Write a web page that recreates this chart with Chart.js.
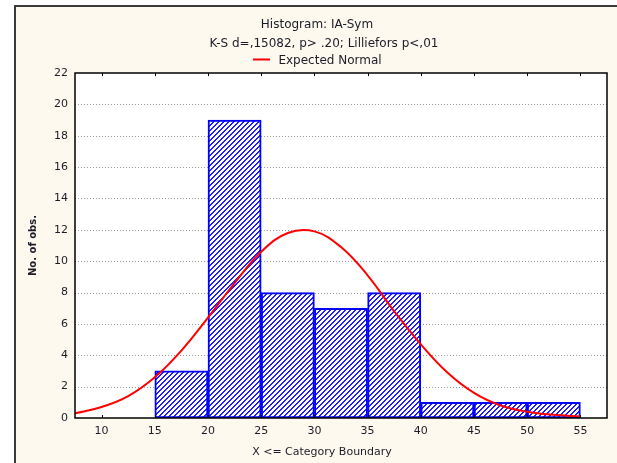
<!DOCTYPE html>
<html>
<head>
<meta charset="utf-8">
<script src="https://cdn.jsdelivr.net/npm/chart.js@4.4.0/dist/chart.umd.min.js"></script>
<style>
  html, body { margin: 0; padding: 0; background: #fff; }
</style>
</head>
<body>
<canvas id="histograma" width="617" height="463"></canvas>
<script>
// centro de cada clase y cantidad de observaciones
const centros = [17.5, 22.5, 27.5, 32.5, 37.5, 42.5, 47.5, 52.5];
const frecuencias = [3, 19, 8, 7, 8, 1, 1, 1];

// curva normal esperada
const curvaX = [7.5, 10, 12.5, 15, 17.5, 20, 22.5, 25, 27.5, 30, 32.5, 35, 37.5, 40, 42.5, 45, 47.5, 50, 52.5, 55];
const curvaY = [0.3, 0.7, 1.4, 2.6, 4.3, 6.4, 8.6, 10.6, 11.8, 11.9, 10.9, 9.1, 6.8, 4.7, 2.9, 1.6, 0.8, 0.4, 0.2, 0.1];

// etiquetas de los ejes
const ticksX = [10, 15, 20, 25, 30, 35, 40, 45, 50, 55];
const ticksY = [0, 2, 4, 6, 8, 10, 12, 14, 16, 18, 20, 22];

const titulo = 'Histogram: IA-Sym';
const subtitulo = 'K-S d=,15082, p> .20; Lilliefors p<,01';
const leyenda = 'Expected Normal';
const tituloX = 'X <= Category Boundary';
const tituloY = 'No. of obs.';

/**
 * Rayado diagonal azul para las barras
 */
var crearRayado = function() {
    const p = 5;
    const c = document.createElement('canvas');
    c.width = p; c.height = p;
    const g = c.getContext('2d');
    g.fillStyle = '#ffffff';
    g.fillRect(0, 0, p, p);
    g.fillStyle = '#2020ff';
    for (let i = 0; i < p; i++) {
        g.fillRect(i, p - 1 - i, 1, 1);
        g.fillRect(i, (p - i) % p, 1, 1);
    }
    return g.createPattern(c, 'repeat');
};

var texto = function(ctx, s, x, y, font, color) {
    ctx.font = font;
    ctx.fillStyle = color;
    ctx.textAlign = 'center';
    ctx.textBaseline = 'middle';
    ctx.fillText(s, x, y);
};

const marco = {
    id: 'marco',
    beforeDraw(chart) {
        const ctx = chart.ctx, a = chart.chartArea;
        ctx.save();
        ctx.fillStyle = '#ffffff';
        ctx.fillRect(0, 0, chart.width, chart.height);
        ctx.fillStyle = '#fdf9ef';
        ctx.fillRect(15, 6, chart.width, chart.height);
        ctx.strokeStyle = '#3a3a3a';
        ctx.lineWidth = 2;
        ctx.beginPath();
        ctx.moveTo(15, chart.height + 5);
        ctx.lineTo(15, 6);
        ctx.lineTo(chart.width + 5, 6);
        ctx.stroke();
        ctx.fillStyle = '#ffffff';
        ctx.fillRect(a.left, a.top, a.right - a.left, a.bottom - a.top);
        ctx.restore();
    },
    beforeDatasetsDraw(chart) {
        const ctx = chart.ctx, a = chart.chartArea, y = chart.scales.y;
        ctx.save();
        ctx.strokeStyle = '#999999';
        ctx.lineWidth = 1;
        ctx.setLineDash([1, 2]);
        ticksY.slice(1, -1).forEach(v => {
            const py = Math.round(y.getPixelForValue(v)) + 0.5;
            ctx.beginPath();
            ctx.moveTo(a.left, py);
            ctx.lineTo(a.right, py);
            ctx.stroke();
        });
        ctx.restore();
    },
    afterDraw(chart) {
        const ctx = chart.ctx, a = chart.chartArea, x = chart.scales.x;
        ctx.save();
        ctx.strokeStyle = '#000000';
        ctx.lineWidth = 1.5;
        ctx.strokeRect(a.left, a.top, a.right - a.left, a.bottom - a.top);
        ctx.lineWidth = 1;
        ticksX.forEach(v => {
            const px = Math.round(x.getPixelForValue(v)) + 0.5;
            ctx.beginPath();
            ctx.moveTo(px, a.bottom); ctx.lineTo(px, a.bottom - 3);
            ctx.moveTo(px, a.top); ctx.lineTo(px, a.top + 3);
            ctx.stroke();
        });

        const col = '#1c1c28';
        texto(ctx, titulo, 317, 25, '12px "DejaVu Sans"', col);
        texto(ctx, subtitulo, 324, 44, '12px "DejaVu Sans"', col);
        texto(ctx, leyenda, 330, 61, '12px "DejaVu Sans"', col);
        ctx.strokeStyle = '#ff0000';
        ctx.lineWidth = 2;
        ctx.beginPath();
        ctx.moveTo(253, 59.5); ctx.lineTo(270, 59.5);
        ctx.stroke();

        texto(ctx, tituloX, 322, 452, '11px "DejaVu Sans"', col);
        ctx.translate(33, (a.top + a.bottom) / 2);
        ctx.rotate(-Math.PI / 2);
        texto(ctx, tituloY, 0, 0, 'bold 10px "DejaVu Sans"', col);
        ctx.restore();
    }
};

const ctx = document.getElementById('histograma');
const rayado = crearRayado();

new Chart(ctx, {
    type: 'bar',
    data: {
        datasets: [{
            type: 'line',
            label: leyenda,
            data: curvaX.map((v, i) => ({ x: v, y: curvaY[i] })),
            borderColor: '#ff0000',
            borderWidth: 2,
            pointRadius: 0,
            tension: 0.4,
            order: 0
        }, {
            type: 'bar',
            label: 'obs',
            data: centros.map((v, i) => ({ x: v, y: frecuencias[i] })),
            backgroundColor: rayado,
            borderColor: '#0000ff',
            borderWidth: 2,
            borderSkipped: false,
            barPercentage: 1,
            categoryPercentage: 1,
            order: 1
        }]
    },
    options: {
        responsive: false,
        animation: false,
        events: [],
        layout: { padding: { left: 0, top: 73, right: 10, bottom: 0 } },
        plugins: {
            legend: { display: false },
            title: { display: false },
            tooltip: { enabled: false }
        },
        scales: {
            x: {
                type: 'linear',
                offset: false,
                min: 7.5,
                max: 57.5,
                grid: { display: false, drawTicks: false, offset: false },
                border: { display: false },
                afterBuildTicks: s => { s.ticks = ticksX.map(v => ({ value: v })); },
                afterFit: s => { s.height = 45; },
                ticks: {
                    padding: 7,
                    maxRotation: 0,
                    autoSkip: false,
                    color: '#1c1c28',
                    font: { family: 'DejaVu Sans', size: 11 }
                }
            },
            y: {
                min: 0,
                max: 22,
                grid: { display: false, drawTicks: false },
                border: { display: false },
                afterBuildTicks: s => { s.ticks = ticksY.map(v => ({ value: v })); },
                afterFit: s => { s.width = 75; },
                ticks: {
                    padding: 7,
                    autoSkip: false,
                    color: '#1c1c28',
                    font: { family: 'DejaVu Sans', size: 11 }
                }
            }
        }
    },
    plugins: [marco]
});
</script>
</body>
</html>
